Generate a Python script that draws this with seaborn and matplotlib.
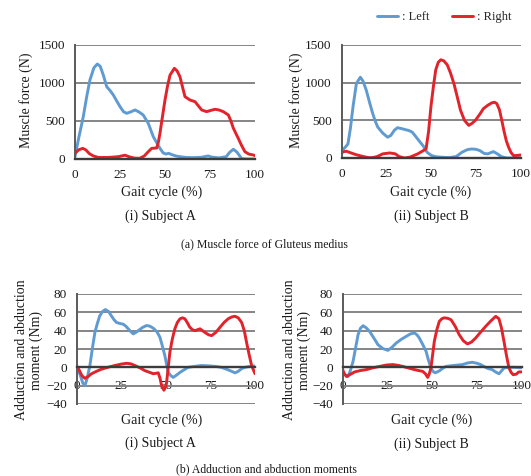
import matplotlib
matplotlib.use("Agg")
import matplotlib.pyplot as plt
import seaborn as sns
import pandas as pd

# ---------------- data ----------------
# (a) Muscle force of Gluteus medius, Subject A
fa_left_x = [0, 2, 4.6, 6.5, 8.3, 10.5, 12.4, 14, 15.8, 17.6, 19.5, 21.3, 23, 25, 26.9, 28.7, 31, 33.3,
             35.5, 37.9, 40.7, 43.5, 45.5, 47.2, 49, 50.5, 52, 53.5, 56, 58.3, 62, 66, 70, 74, 76, 80,
             84, 86, 88, 90, 92.6, 95, 100]
fa_left_y = [30, 270, 557, 820, 1040, 1200, 1250, 1220, 1100, 952, 900, 842, 770, 690, 623, 601, 620, 645,
             620, 579, 470, 293, 210, 140, 80, 65, 75, 60, 40, 30, 20, 18, 22, 40, 25, 15,
             30, 90, 128, 90, 5, 0, 0]
fa_right_x = [0, 2, 4.3, 6, 8, 10.2, 13, 18, 24, 27.8, 30, 33, 36, 38.5, 40.7, 42.6, 45.4, 46.3, 47.2,
              48.6, 50, 51.4, 52.8, 55.2, 56.7, 58.3, 59.7, 61.1, 63.9, 66.7, 68.5, 70.4, 73.1, 75.5,
              77.8, 80, 82.4, 85.2, 86.6, 88, 90.7, 92.5, 94.4, 96.5, 99, 100]
fa_right_y = [75, 120, 140, 120, 70, 40, 20, 20, 30, 50, 30, 12, 10, 40, 96, 140, 145, 220, 338,
              560, 776, 960, 1105, 1193, 1160, 1083, 950, 820, 776, 754, 700, 645, 623, 640,
              654, 645, 623, 579, 500, 404, 272, 180, 96, 65, 53, 45]

# (a) Subject B
fb_left_x = [0, 2, 3.6, 5, 6.4, 8.3, 10.5, 12, 13.8, 15.6, 17.4, 18.8, 20.2, 23, 25.7, 27.5, 29.5, 31.2,
             33.5, 35.8, 37.5, 39.4, 41.2, 43.1, 45.5, 47.7, 50, 52.3, 56, 60, 64, 67, 70, 72.5, 75,
             77.1, 79.5, 81.5, 84.6, 86.5, 89.2, 92, 100]
fb_left_y = [98, 140, 188, 400, 678, 990, 1072, 1020, 900, 740, 590, 490, 410, 330, 276, 300, 370, 402,
             390, 375, 365, 343, 290, 232, 160, 75, 35, 17, 10, 5, 20, 75, 110, 120, 115,
             98, 60, 55, 85, 60, 17, 0, 0]
fb_right_x = [0, 1.5, 2.7, 5, 8, 12, 15, 17.4, 20, 23, 26.9, 30, 32, 35, 38, 42.4, 45, 47.1, 48.5, 49.8,
              51.2, 52.5, 53.9, 55.3, 57, 58.9, 60.7, 62.6, 64.5, 66.3, 68.5, 70.9, 72.7, 74.6, 77,
              79.1, 81.5, 83.7, 85.2, 86.5, 88, 89.3, 90.5, 91.8, 93.1, 94.5, 95.9, 98, 100]
fb_right_y = [70, 85, 90, 70, 45, 20, 5, 5, 20, 55, 67, 55, 20, 0, 10, 54, 90, 120, 350, 678,
              950, 1170, 1270, 1304, 1290, 1237, 1130, 990, 810, 634, 500, 433, 460, 500, 580,
              656, 700, 732, 740, 723, 640, 500, 360, 230, 142, 70, 31, 35, 40]

# (b) Adduction and abduction moments, Subject A
ma_left_x = [0, 2, 3.5, 4.7, 6, 7.5, 9, 10.3, 11.7, 13, 14.6, 16.2, 17.9, 19.6, 21, 22.4, 24, 26.2, 27.6,
             29, 30.4, 31.8, 33.2, 34.6, 37, 39.2, 41, 43, 45, 46.7, 48, 49.5, 50.5, 51.4, 52.8, 54.2,
             56, 58, 60, 62.6, 66, 70, 75, 78, 81, 84, 86.5, 88.8, 90.5, 92.5, 94.4, 97, 100]
ma_left_y = [0, -8, -17, -20, -12, 2, 22, 38, 48, 56, 61, 63, 61, 56, 52, 49, 48, 47, 45,
             42, 39, 36.5, 38, 40, 43.5, 45.6, 45, 42.7, 39, 33, 24, 12.8, 3, -5.5, -9, -11,
             -8.5, -5.5, -3, 0, 1, 2, 1.5, 1, 0, -2, -4, -6, -4.5, -1.5, 0, 1, 1.5]
ma_right_x = [0, 1.5, 3, 4.7, 6.5, 8.4, 11, 14, 17.5, 21.5, 25, 28, 30.5, 32.7, 35.5, 38.3, 41, 43, 44.5,
              45.8, 46.8, 47.7, 49, 50, 50.5, 51.4, 52.3, 53.7, 55.1, 56.5, 58, 59.4, 60.7, 62, 63.5,
              65, 66.4, 67.8, 69.2, 70.6, 72, 74, 75.7, 78, 80.4, 82.7, 85, 87, 88.8, 90.6, 92.5, 94,
              95.3, 96.7, 98.1, 100]
ma_right_y = [2, -3, -9, -12, -10, -7, -4.5, -2, 0, 2, 3.5, 4.4, 3.8, 2, -0.5, -3.6, -5.5, -7, -6.5,
              -6, -12, -20, -25, -21, -16, 0, 16.4, 31, 42, 49, 53, 54, 53, 49, 43.7,
              41, 40, 41, 42, 40, 38, 35.5, 34.6, 38, 43.7, 49, 53, 55, 55.7, 54, 49, 40,
              27, 14, 2, -7]

# (b) Subject B
mb_left_x = [0, 1.5, 3.1, 4.5, 5.9, 7.3, 8.7, 10, 11.5, 13.3, 15.2, 17.5, 19.8, 22.5, 25.4, 27.7, 30,
             32.8, 35.6, 38, 40.2, 41.6, 42.9, 44.8, 46.7, 48, 49.4, 50.6, 51.8, 54, 56, 57.8, 62, 67,
             70, 72.5, 75, 77.2, 79, 80.9, 83.6, 85.5, 87.4, 88.8, 90.2, 93, 95.7, 100]
mb_left_y = [-5, -8, -10, -3, 6.5, 21, 35.6, 42.5, 45.4, 43, 39, 32, 24.7, 20.5, 18.5, 22, 26.5,
             30.5, 33.8, 36.5, 37.5, 35.5, 32, 25, 17.4, 8, -0.7, -4.5, -6, -4, -1, 1, 2, 3,
             4.8, 5.5, 4.5, 3, 1, -1, -2.5, -5, -7, -4, -0.7, 0, 0, -0.5]
mb_right_x = [0, 1, 2.2, 4.5, 6.8, 10, 13.3, 17, 20.7, 24.5, 28.1, 31, 33.7, 37, 40.2, 42.5, 44.8, 46.3,
              47.6, 48.5, 49.4, 50.3, 51.3, 52.7, 54.1, 55.5, 56.8, 58.7, 60.6, 62.9, 65.2, 67.5, 69.8,
              72, 74.4, 77.2, 80, 82.8, 85.6, 87.4, 88.8, 90.2, 91.6, 93, 94.2, 95.3, 97, 98.5, 100]
mb_right_y = [-2, -7, -10, -7.5, -5, -3.5, -2.5, -0.5, 1, 2.5, 3, 2.2, 1, -0.8, -2.5, -3.5, -4.4, -7,
              -11, -7, -0.7, 13, 28.4, 41, 50.2, 53, 54, 53.5, 52, 45, 35.6, 29, 25.5,
              27.5, 32, 38.5, 44.7, 50.5, 55.6, 53, 43, 28.4, 13, -0.7, -5.5, -8, -7.5, -5, -5]

x_ticks = [0, 25, 50, 75, 100]
force_ticks = [0, 500, 1000, 1500]
moment_ticks = [-40, -20, 0, 20, 40, 60, 80]
legend_labels = [": Left", ": Right"]
subjects = ["(i) Subject A", "(ii) Subject B"]

# ---------------- style ----------------
sns.set_style("white")
plt.rcParams["font.family"] = ["Liberation Serif", "DejaVu Serif"]

BLUE = "#5f9bd1"
RED = "#e1232b"
GRID = "#858585"
TXT = "#1a1a1a"

W, H = 531, 476
fig = plt.figure(figsize=(W / 100, H / 100), dpi=100)


def ax_px(l, t, r, b):
    return fig.add_axes([l / W, 1 - b / H, (r - l) / W, (b - t) / H])


def ftxt(x, y, s, **kw):
    kw.setdefault("ha", "center")
    kw.setdefault("va", "center")
    kw.setdefault("color", TXT)
    fig.text(x / W, 1 - y / H, s, **kw)


def style(ax, yticks, bottom_at_zero=False):
    ax.set_xlim(0, 100)
    ax.set_ylim(yticks[0], yticks[-1])
    ax.set_xticks(x_ticks)
    ax.set_yticks(yticks)
    ax.set_xticklabels([str(v) for v in x_ticks])
    ax.yaxis.grid(True, color=GRID, lw=1.4)
    ax.xaxis.grid(False)
    ax.set_axisbelow(True)
    for s in ["top", "right"]:
        ax.spines[s].set_visible(False)
    ax.spines["left"].set_color("#5a5a5a")
    ax.spines["left"].set_linewidth(1.4)
    ax.spines["bottom"].set_color("#3c3c3c")
    ax.spines["bottom"].set_linewidth(1.7)
    if bottom_at_zero:
        ax.spines["bottom"].set_position(("data", 0))
    ax.tick_params(axis="both", length=0, labelsize=9.5, colors=TXT)
    ax.tick_params(axis="y", pad=7)
    ax.tick_params(axis="x", pad=7 if not bottom_at_zero else 9)
    ax.set_xlabel("")
    ax.set_ylabel("")


def draw(ax, lx, ly, rx, ry):
    dl = pd.DataFrame({"x": lx, "y": ly})
    dr = pd.DataFrame({"x": rx, "y": ry})
    sns.lineplot(data=dl, x="x", y="y", ax=ax, color=BLUE, lw=2.1, label=legend_labels[0])
    sns.lineplot(data=dr, x="x", y="y", ax=ax, color=RED, lw=2.1, label=legend_labels[1])
    ax.get_legend().remove()


# top panels
ax1 = ax_px(75, 45, 255, 159)
draw(ax1, fa_left_x, fa_left_y, fa_right_x, fa_right_y)
style(ax1, force_ticks)

ax2 = ax_px(341.5, 45, 521, 158)
draw(ax2, fb_left_x, fb_left_y, fb_right_x, fb_right_y)
style(ax2, force_ticks)

# bottom panels
ax3 = ax_px(76.5, 294, 255, 404)
draw(ax3, ma_left_x, ma_left_y, ma_right_x, ma_right_y)
style(ax3, moment_ticks, bottom_at_zero=True)

ax4 = ax_px(342.5, 294, 521.5, 404)
draw(ax4, mb_left_x, mb_left_y, mb_right_x, mb_right_y)
style(ax4, moment_ticks, bottom_at_zero=True)

# labels
fs = 10
ftxt(26, 100, "Muscle force (N)", rotation=90, fontsize=fs)
ftxt(296, 100, "Muscle force (N)", rotation=90, fontsize=fs)
ftxt(162, 192, "Gait cycle (%)", fontsize=fs)
ftxt(431, 192, "Gait cycle (%)", fontsize=fs)
ftxt(160, 216, subjects[0], fontsize=fs)
ftxt(431, 216, subjects[1], fontsize=fs)
ftxt(264, 244, "(a) Muscle force of Gluteus medius", fontsize=8.5)

ftxt(29, 350, "Adduction and abduction\nmoment (Nm)", rotation=90, fontsize=fs, linespacing=1.1)
ftxt(297, 350, "Adduction and abduction\nmoment (Nm)", rotation=90, fontsize=fs, linespacing=1.1)
ftxt(162, 420, "Gait cycle (%)", fontsize=fs)
ftxt(432, 420, "Gait cycle (%)", fontsize=fs)
ftxt(160, 443, subjects[0], fontsize=fs)
ftxt(431, 444, subjects[1], fontsize=fs)
ftxt(266, 469, "(b) Adduction and abduction moments", fontsize=8.5)

# legend
handles, labels = ax2.get_legend_handles_labels()
fig.legend(handles, labels, loc="center", bbox_to_anchor=(444 / W, 1 - 17 / H), ncol=2,
           frameon=False, fontsize=9, handlelength=1.7, handletextpad=0.3, columnspacing=1.8)

fig.savefig("out.png", dpi=100)
